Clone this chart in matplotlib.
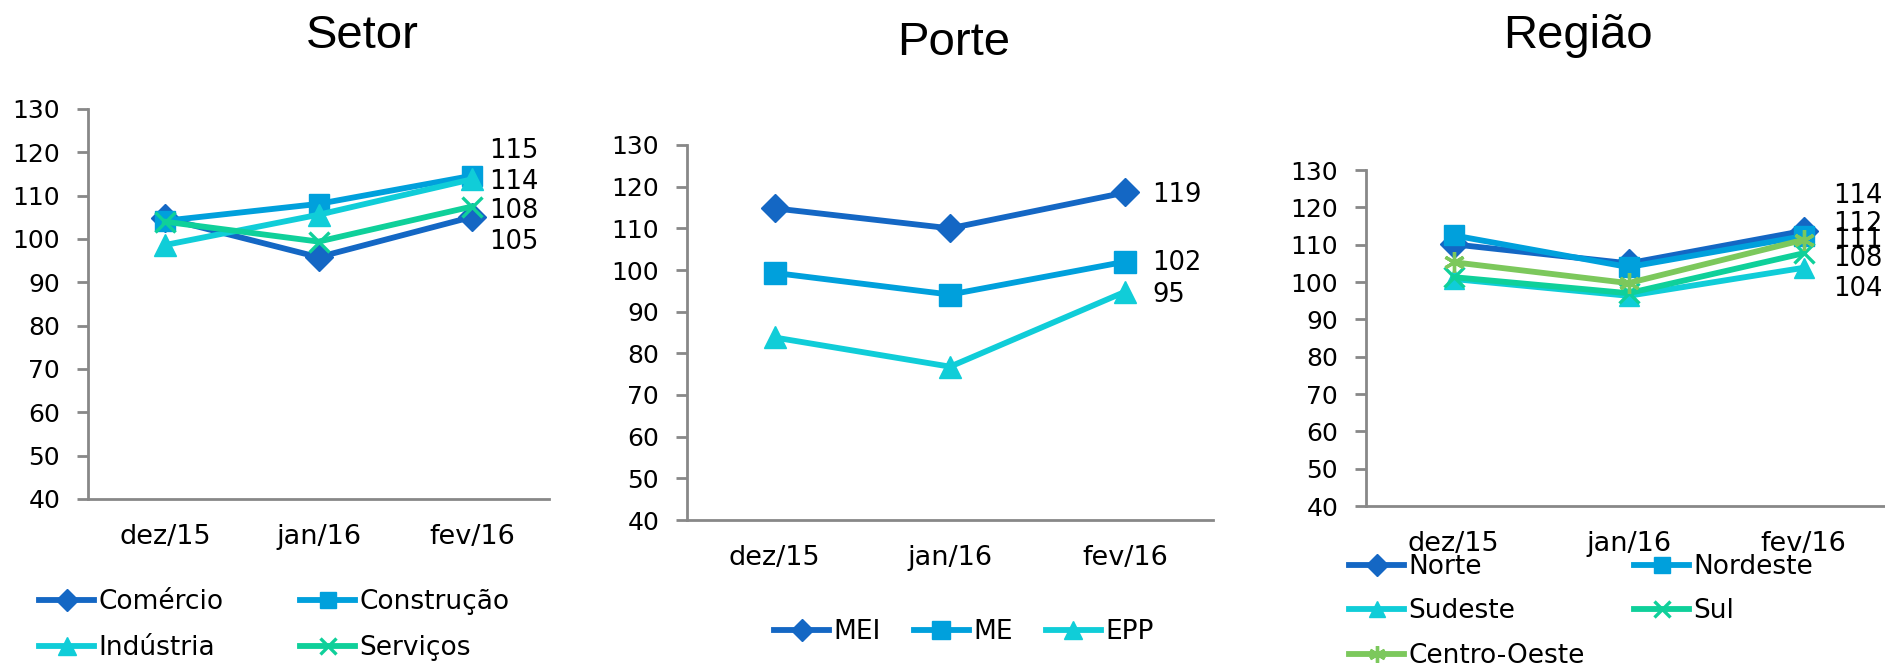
import matplotlib
matplotlib.use("Agg")
import matplotlib.pyplot as plt

# --- data ---
months = ["dez/15", "jan/16", "fev/16"]

setor_names = ["Comércio", "Construção", "Indústria", "Serviços"]
comercio = [104.8, 95.8, 105.1]
construcao = [104.2, 108.1, 114.6]
industria = [98.6, 105.6, 113.8]
servicos = [104.0, 99.4, 107.5]

porte_names = ["MEI", "ME", "EPP"]
mei = [114.8, 110.0, 118.6]
me = [99.3, 94.1, 102.0]
epp = [83.8, 76.8, 94.8]

regiao_names = ["Norte", "Nordeste", "Sudeste", "Sul", "Centro-Oeste"]
norte = [110.1, 105.0, 113.7]
nordeste = [112.5, 104.0, 112.3]
sudeste = [100.8, 96.3, 103.8]
sul = [101.3, 97.0, 107.7]
centro_oeste = [105.3, 99.7, 111.3]

# --- styles ---
DARK = "#1467c4"
MID = "#00a0dc"
CYAN = "#10cdd8"
TEAL = "#0fd09a"
GREEN = "#7cc85c"
AXIS = "#888888"

W, H = 1885, 666
fig = plt.figure(figsize=(W / 100, H / 100), dpi=100)


def add_axes_px(left, right, top, bottom):
    return fig.add_axes([left / W, 1 - bottom / H, (right - left) / W, (bottom - top) / H])


def style_axes(ax):
    ax.set_xlim(-0.5, 2.5)
    ax.set_ylim(40, 130)
    ax.set_yticks(range(40, 131, 10))
    ax.set_xticks(range(len(months)))
    ax.set_xticklabels(months)
    for s in ["top", "right"]:
        ax.spines[s].set_visible(False)
    for s in ["left", "bottom"]:
        ax.spines[s].set_color(AXIS)
        ax.spines[s].set_linewidth(2)
    ax.tick_params(axis="y", length=8, width=2, color=AXIS, pad=12, labelsize=18)
    ax.tick_params(axis="x", length=0, pad=18, labelsize=19.5)
    ax.patch.set_alpha(0)


def draw(ax, series, names, styles, offsets, dx):
    handles = []
    for vals, name, (color, marker, ms, mew), dy in zip(series, names, styles, offsets):
        h, = ax.plot(range(len(months)), vals, color=color, lw=4.2, marker=marker,
                     ms=ms, mew=mew, mec=color, mfc=color, label=name, clip_on=False)
        handles.append(h)
        ax.annotate(f"{round(vals[-1])}", xy=(2, vals[-1]), xytext=(dx, dy),
                    textcoords="offset pixels", ha="left", va="center",
                    fontsize=18.5, annotation_clip=False)
    return handles


def add_legend(ax, handles, order, ncol, x, y, colsp, labsp):
    ax.legend(handles=[handles[i] for i in order], ncol=ncol, loc="upper left",
              bbox_to_anchor=(x / W, 1 - y / H), bbox_transform=fig.transFigure,
              frameon=False, fontsize=19, handlelength=2.1, handletextpad=0.15,
              columnspacing=colsp, labelspacing=labsp, borderpad=0, borderaxespad=0,
              markerscale=0.8)


# Setor
ax1 = add_axes_px(88, 549, 109, 499)
style_axes(ax1)
h1 = draw(ax1, [comercio, construcao, industria, servicos], setor_names,
          [(DARK, "D", 14, 1), (MID, "s", 15, 1), (CYAN, "^", 16, 1), (TEAL, "x", 14, 2.4)],
          [-25, 25, -3, -4], 17)
add_legend(ax1, h1, [0, 2, 1, 3], 2, 39, 589, 2.9, 0.77)

# Porte
ax2 = add_axes_px(687, 1213, 145, 520)
style_axes(ax2)
h2 = draw(ax2, [mei, me, epp], porte_names,
          [(DARK, "D", 14, 1), (MID, "s", 16, 1), (CYAN, "^", 16, 1)],
          [-3, -1, -3], 27)
add_legend(ax2, h2, [0, 1, 2], 3, 774, 619, 1.25, 0.5)

# Regiao
ax3 = add_axes_px(1366, 1891, 170, 506)
style_axes(ax3)
h3 = draw(ax3, [norte, nordeste, sudeste, sul, centro_oeste], regiao_names,
          [(DARK, "D", 14, 1), (MID, "s", 15, 1), (CYAN, "^", 15, 1),
           (TEAL, "x", 14, 2.4), (GREEN, (6, 2, 0), 15, 2.4)],
          [35, 12, -21, -6, 0], 30)
add_legend(ax3, h3, [0, 2, 4, 1, 3], 2, 1349, 554, 1.86, 0.70)

# titles
for txt, x, y in [("Setor", 362, 48), ("Porte", 954, 55), ("Região", 1578, 48)]:
    fig.text(x / W, 1 - y / H, txt, ha="center", va="baseline", fontsize=34,
             family="Liberation Sans")

fig.savefig("out.png", dpi=100)
